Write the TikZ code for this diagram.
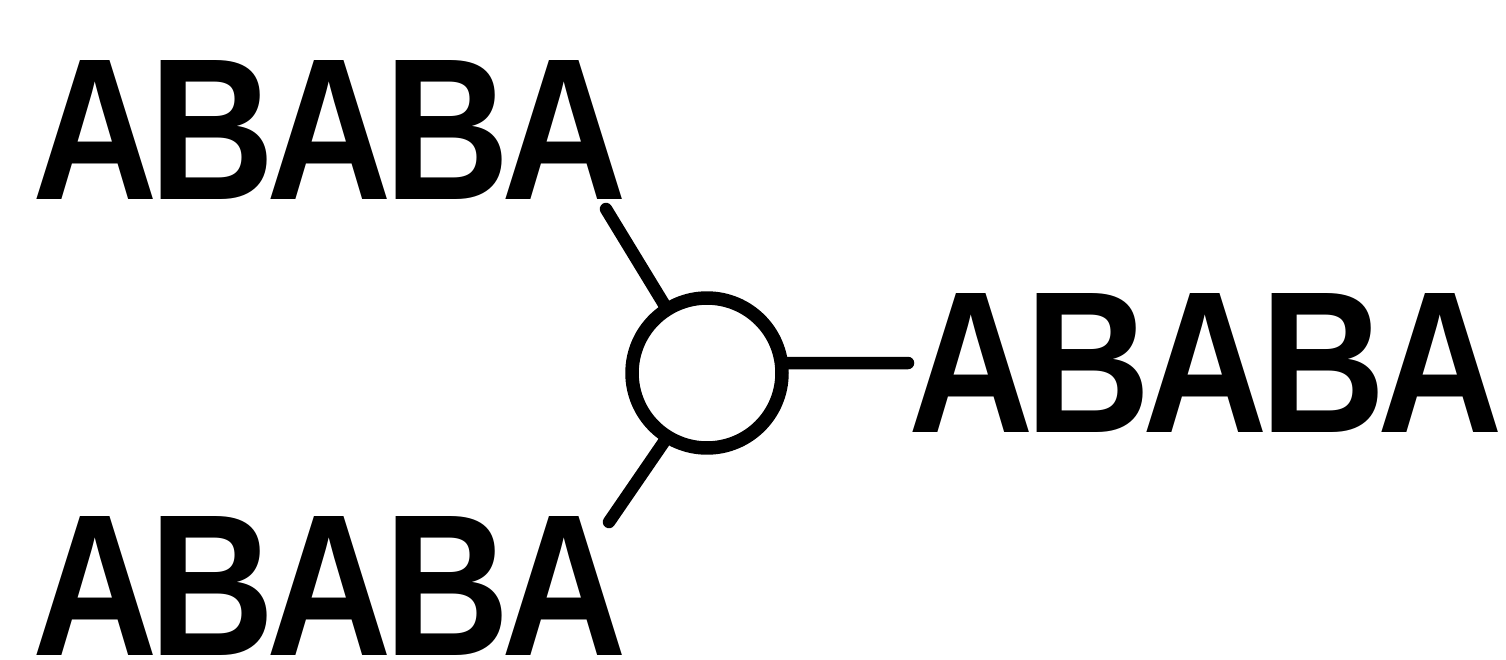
\documentclass[tikz,border=0pt]{standalone}
\usepackage{fontspec}
\setmainfont{Liberation Sans}[FakeStretch=0.86,LetterSpace=-4]
\begin{document}
\begin{tikzpicture}[x=0.02cm,y=-0.02cm,
  label/.style={inner sep=0pt,outer sep=0pt,anchor=base west,
    font=\fontsize{115}{115}\selectfont\bfseries},
  junction/.style={circle,draw,line width=0.27cm,inner sep=0pt,minimum size=3cm},
  wire/.style={line width=0.25cm,line cap=round}]
  \useasboundingbox (0,0) rectangle (1506,659);
  % labels
  \node[label] (t1) at (32,199) {ABABA};
  \node[label] (t2) at (908,432) {ABABA};
  \node[label] (t3) at (32,655) {ABABA};
  % junction circle
  \node[junction] (c) at (707,373) {};
  % free ends of the wires
  \coordinate (e1) at (606,209);
  \coordinate (e2) at (908,363);
  \coordinate (e3) at (609,522);
  \draw[wire] (c.122) -- (e1);
  \draw[wire] (c.7) -- (e2);
  \draw[wire] (c.238) -- (e3);
\end{tikzpicture}
\end{document}
